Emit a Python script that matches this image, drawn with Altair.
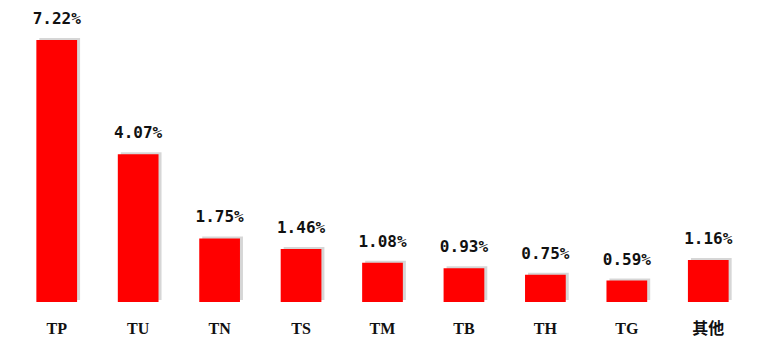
import altair as alt
import pandas as pd

categories = ["TP", "TU", "TN", "TS", "TM", "TB", "TH", "TG", "其他"]
values = [7.22, 4.07, 1.75, 1.46, 1.08, 0.93, 0.75, 0.59, 1.16]
labels = ["7.22%", "4.07%", "1.75%", "1.46%", "1.08%", "0.93%", "0.75%", "0.59%", "1.16%"]

df = pd.DataFrame({"cat": categories, "val": values, "lab": labels})

x = alt.X("cat:N", sort=categories,
          scale=alt.Scale(paddingInner=0.5, paddingOuter=0.25),
          axis=alt.Axis(title=None, labelAngle=0, domain=False, ticks=False,
                        labelPadding=18, labelFontSize=16, labelFontWeight="bold",
                        labelFont="Liberation Serif, Noto Sans CJK SC",
                        labelColor="#111111"))
y = alt.Y("val:Q", scale=alt.Scale(domain=[0, 7.77], nice=False), axis=None)

base = alt.Chart(df)

shadow = base.mark_bar(color="#777777", opacity=0.3, xOffset=3, yOffset=-2).encode(x=x, y=y)
bars = base.mark_bar(color="#ff0000").encode(x=x, y=y)
text = base.mark_text(dy=-16, baseline="alphabetic", font="DejaVu Sans Mono",
                      fontSize=16, fontWeight="bold", color="#111111").encode(
    x=x, y=y, text="lab:N")

chart = (shadow + bars + text).properties(
    width=733, height=282,
    background="white",
    autosize=alt.AutoSizeParams(type="none"),
    padding={"left": 16, "top": 20, "right": 10, "bottom": 50},
).configure_view(strokeWidth=0, stroke=None)

chart.save("out.html", embed_options={"renderer": "svg", "actions": False})
